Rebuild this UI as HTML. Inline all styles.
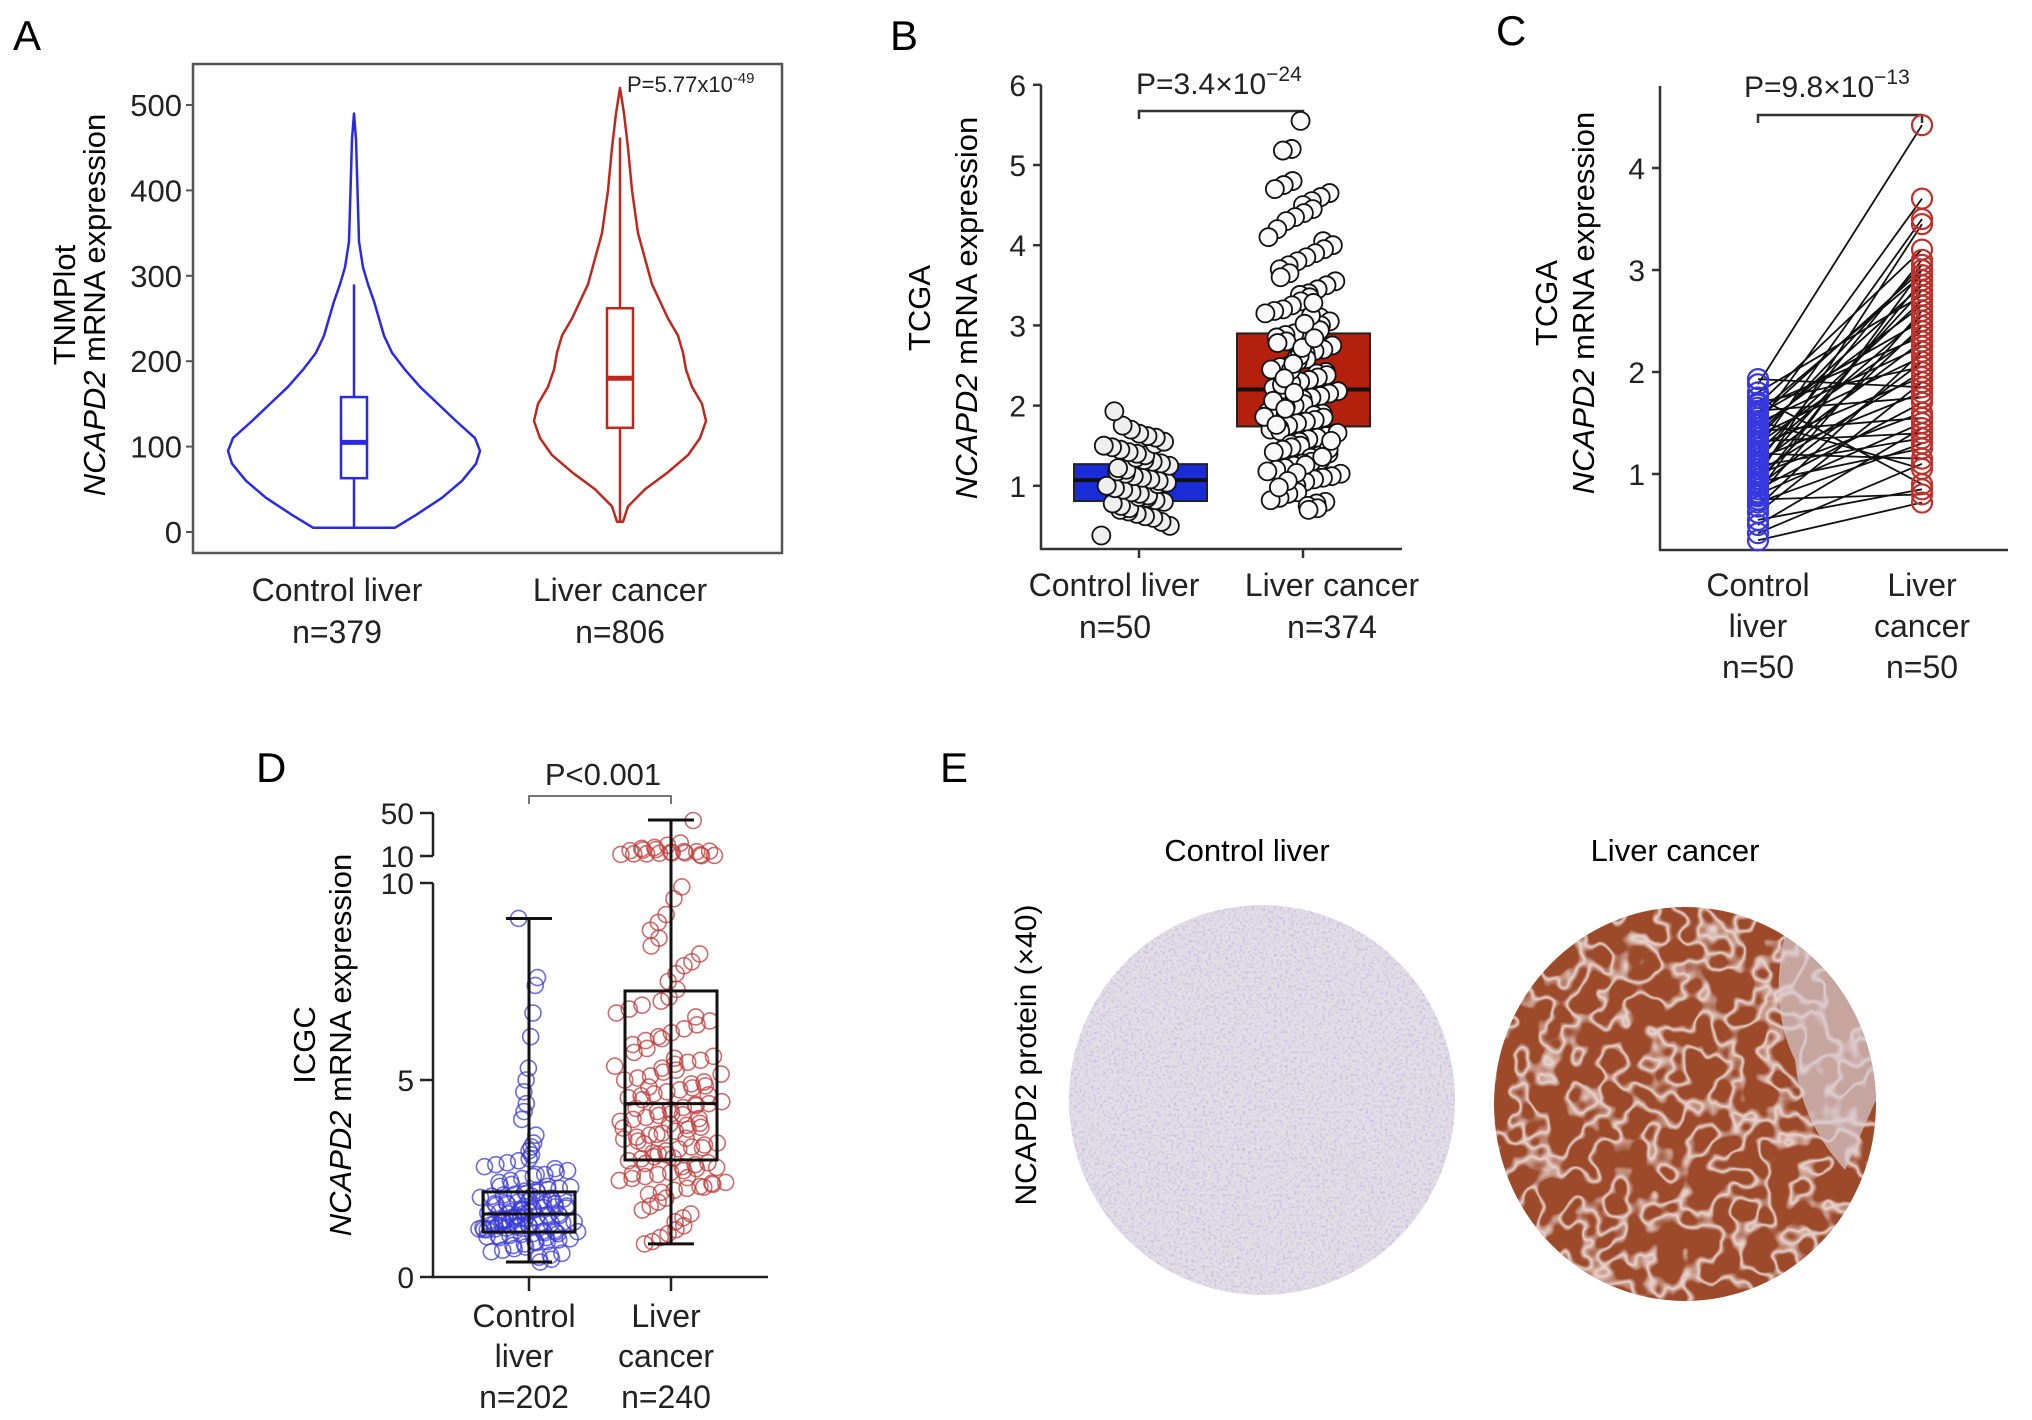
<!DOCTYPE html>
<html><head><meta charset="utf-8"><title>NCAPD2 expression figure</title>
<style>
html,body{margin:0;padding:0;background:#fff;}
svg{display:block;font-family:"Liberation Sans",Arial,sans-serif;}
</style></head>
<body>
<svg id="fig" width="2032" height="1420" viewBox="0 0 2032 1420" xmlns="http://www.w3.org/2000/svg">
<defs>
  <filter id="noiseA" x="0" y="0" width="100%" height="100%">
    <feTurbulence type="fractalNoise" baseFrequency="0.35" numOctaves="2" seed="3" result="n"/>
    <feColorMatrix in="n" type="matrix" values="0 0 0 0 0.4  0 0 0 0 0.4  0 0 0 0 0.75  0 0 0 -2.4 1.25" result="c"/>
    <feComposite in="c" in2="SourceGraphic" operator="in"/>
  </filter>
  <filter id="noiseB" x="0" y="0" width="100%" height="100%">
    <feTurbulence type="fractalNoise" baseFrequency="0.035" numOctaves="2" seed="7" result="n"/>
    <feComponentTransfer in="n" result="band">
      <feFuncA type="table" tableValues="0 0 0 0 0 0 1 0 0 0 0 0"/>
    </feComponentTransfer>
    <feColorMatrix in="band" type="matrix" values="0 0 0 0 0.92  0 0 0 0 0.84  0 0 0 0 0.84  0 0 0 1 0" result="c"/>
    <feComposite in="c" in2="SourceGraphic" operator="in"/>
  </filter>
  <clipPath id="clipCtrl"><ellipse cx="1262" cy="1100" rx="193" ry="195"/></clipPath>
  <clipPath id="clipCanc"><ellipse cx="1685" cy="1104" rx="191" ry="197"/></clipPath>
</defs>
<g id="gA"></g>
<g id="gB"></g>
<g id="gC"></g>
<g id="gD"></g>
<g id="gE">
  <text x="940" y="782" font-size="42">E</text>
  <text x="1247" y="861" font-size="31" text-anchor="middle">Control liver</text>
  <text x="1675" y="861" font-size="31" text-anchor="middle">Liver cancer</text>
  <text transform="translate(1036,1055) rotate(-90)" font-size="30" text-anchor="middle">NCAPD2 protein (×40)</text>
  <g>
    <ellipse cx="1262" cy="1100" rx="193" ry="195" fill="#e4dde6"/>
    <rect x="1060" y="900" width="410" height="400" fill="#fff" filter="url(#noiseA)" clip-path="url(#clipCtrl)" opacity="0.7"/>
  </g>
  <g>
    <ellipse cx="1685" cy="1104" rx="191" ry="197" fill="#9c4a2a"/>
    <rect x="1490" y="900" width="400" height="410" fill="#fff" filter="url(#noiseB)" clip-path="url(#clipCanc)" opacity="0.85"/>
    <path d="M1790 915 Q1765 1000 1795 1060 Q1800 1120 1845 1170 L1876 1100 L1870 990 Z" fill="#d9ccd2" opacity="0.7" clip-path="url(#clipCanc)"/>
  </g>
</g>
</svg>
<script>
// ===== Panel A data (TNMPlot violin) =====
const aCats = ["Control liver","Liver cancer"];
const aNs = ["n=379","n=806"];
const aTicks = [0,100,200,300,400,500];
const aCtrlVals = [5,20,40,60,80,95,110,130,150,170,190,210,230,250,270,290,310,340,380,420,460,490];
const aCtrlDens = [41,62,88,108,122,126,121,102,84,66,51,38,30,25,20,14,9,5,4,3,2,0];
const aCancVals = [12,30,50,70,90,110,130,150,170,190,210,230,250,270,290,320,350,400,450,490,520];
const aCancDens = [3,8,25,48,68,80,86,82,72,66,63,58,48,40,32,25,18,12,8,4,0];
const aCtrlBox = [5,63,105,158,290];
const aCancBox = [12,122,180,262,462];

// ===== Panel B data (TCGA unpaired) =====
const bCats = ["Control liver","Liver cancer"];
const bNs = ["n=50","n=374"];
const bTicks = [1,2,3,4,5,6];
const bCtrlBox = [0.81,1.07,1.27];
const bCancBox = [1.74,2.2,2.9];
const bCtrlPts = [0.38,0.5,0.55,0.6,0.62,0.65,0.68,0.7,0.72,0.75,0.78,0.8,0.82,0.85,0.86,0.88,0.9,0.92,0.95,0.97,1.0,1.02,1.04,1.06,1.08,1.1,1.12,1.15,1.18,1.2,1.22,1.25,1.28,1.3,1.32,1.35,1.38,1.4,1.42,1.45,1.48,1.5,1.52,1.55,1.6,1.62,1.65,1.7,1.75,1.93];
const bCancPts = [5.55,5.2,5.18,4.8,4.75,4.7,4.65,4.6,4.55,4.5,4.45,4.4,4.35,4.3,4.2,4.1,4.05,4.0,3.95,3.9,3.85,3.8,3.75,3.7,3.65,3.6,3.55,3.5,3.45,3.4,3.38,3.35,3.3,3.25,3.2,3.18,3.15,3.1,3.05,3.0,2.98,2.95,2.9,2.88,2.85,2.8,2.78,2.75,2.7,2.68,2.65,2.6,2.58,2.55,2.5,2.48,2.45,2.42,2.4,2.38,2.35,2.32,2.3,2.28,2.25,2.22,2.2,2.18,2.15,2.12,2.1,2.08,2.05,2.02,2.0,1.98,1.95,1.92,1.9,1.88,1.85,1.82,1.8,1.78,1.75,1.72,1.7,1.68,1.65,1.62,1.6,1.58,1.55,1.52,1.5,1.48,1.45,1.42,1.4,1.38,1.35,1.32,1.3,1.28,1.25,1.22,1.2,1.18,1.15,1.12,1.1,1.08,1.05,1.0,0.95,0.92,0.9,0.85,0.82,0.8,0.78,0.75,0.72,0.7,2.62,2.44,2.26,2.06,1.86,1.66,1.46,2.94,3.12,2.72,2.52,2.34,2.16,1.96,1.76,1.56,1.36,3.28,3.02,2.84,1.26,1.16,1.06,0.98];

// ===== Panel C data (TCGA paired) =====
const cCats = ["Control|liver","Liver|cancer"];
const cNs = ["n=50","n=50"];
const cTicks = [1,2,3,4];
const cCtrl = [0.35,0.42,0.5,0.55,0.62,0.68,0.72,0.75,0.78,0.8,0.82,0.85,0.88,0.9,0.92,0.95,0.98,1.0,1.02,1.05,1.08,1.1,1.12,1.15,1.18,1.2,1.22,1.25,1.28,1.3,1.32,1.35,1.38,1.4,1.42,1.45,1.48,1.5,1.52,1.55,1.58,1.6,1.62,1.65,1.68,1.7,1.75,1.8,1.88,1.93];
const cCanc = [0.72,1.1,1.45,0.85,1.9,2.2,1.3,0.8,2.6,1.5,3.0,1.7,2.1,2.9,1.25,2.45,3.45,1.6,2.0,2.8,1.35,2.3,3.1,1.8,2.55,1.15,2.7,3.5,1.95,2.4,1.4,3.05,2.15,2.85,1.55,2.65,3.7,2.25,1.05,3.0,2.5,2.95,1.75,2.35,3.2,2.05,0.9,2.75,4.42,1.85];

// ===== Panel D data (ICGC) =====
const dCats = ["Control|liver","Liver|cancer"];
const dNs = ["n=202","n=240"];
const dTicksLow = [0,5,10];
const dTicksHigh = [10,50];
const dCtrlBox = [0.38,1.14,1.6,2.16,9.1];
const dCancBox = [0.84,2.97,4.4,7.26,43.5];
const dCtrlPts = [9.1,7.6,7.4,6.7,6.1,5.3,5.0,4.7,4.4,4.2,4.0,3.6,3.4,3.3,3.2,3.1,3.0,2.95,2.9,2.85,2.8,2.75,2.7,2.65,2.6,2.55,2.5,2.45,2.4,2.35,2.3,2.28,2.25,2.22,2.2,2.18,2.15,2.12,2.1,2.08,2.05,2.02,2.0,1.98,1.96,1.94,1.92,1.9,1.88,1.86,1.84,1.82,1.8,1.78,1.76,1.74,1.72,1.7,1.68,1.66,1.64,1.62,1.6,1.58,1.56,1.54,1.52,1.5,1.48,1.46,1.44,1.42,1.4,1.38,1.36,1.34,1.32,1.3,1.28,1.26,1.24,1.22,1.2,1.18,1.16,1.14,1.12,1.1,1.08,1.06,1.04,1.02,1.0,0.97,0.94,0.9,0.87,0.84,0.8,0.76,0.72,0.68,0.64,0.6,0.55,0.5,0.45,0.38,1.65,1.55,1.45,1.35,1.25,1.15,1.75,1.85,1.95,2.05,1.5,1.6,1.7,1.4,1.3,1.2,1.1,1.0,0.9,2.3,2.6,1.62,1.52,1.42,1.32,1.22];
const dCancPts = [43,22,20,18,17,16,15.5,15,14.5,14,14,13.5,13,13,12.5,12,12,11.5,11,10.5,10.3,9.9,9.6,9.2,9.0,8.8,8.6,8.4,8.2,8.0,7.9,7.7,7.5,7.3,7.1,7.0,6.9,6.8,6.7,6.6,6.5,6.4,6.3,6.2,6.1,6.0,5.9,5.8,5.7,5.6,5.5,5.45,5.4,5.3,5.25,5.2,5.1,5.05,5.0,4.95,4.9,4.85,4.8,4.75,4.7,4.65,4.6,4.55,4.5,4.45,4.4,4.35,4.3,4.25,4.2,4.15,4.1,4.05,4.0,3.95,3.9,3.85,3.8,3.75,3.7,3.65,3.6,3.55,3.5,3.45,3.4,3.35,3.3,3.25,3.2,3.15,3.1,3.05,3.0,2.95,2.9,2.85,2.8,2.75,2.7,2.65,2.6,2.55,2.5,2.45,2.4,2.35,2.3,2.25,2.2,2.15,2.1,2.0,1.9,1.8,1.7,1.6,1.5,1.4,1.3,1.2,1.1,1.0,0.9,0.84,5.35,5.15,4.62,4.38,4.12,3.88,3.62,3.38,3.12,2.88,2.62,2.38,4.02,3.52,3.02,2.52,5.55,6.05,4.82,4.28,3.78,3.28,2.78,2.28];

const NS = "http://www.w3.org/2000/svg";
function el(parent, tag, attrs, text){
  const e = document.createElementNS(NS, tag);
  for (const k in attrs) e.setAttribute(k, attrs[k]);
  if (text !== undefined) e.textContent = text;
  parent.appendChild(e);
  return e;
}
function jit(i){ return (((i*37)%41)/40 - 0.5) + (((i*13)%7)/7 - 0.5)*0.3; }

// ================= PANEL A =================
(function(){
  const g = document.getElementById('gA');
  const yA = v => 532 - v*0.854;
  const xs = [354, 620];
  let t;
  t = el(g,'text',{x:13,y:50,'font-size':42}, 'A');
  
  
  const frame = el(g,'rect',{x:193,y:64,width:589,height:489,fill:'none',stroke:'#555','stroke-width':2.5});
  
  
  aTicks.forEach(v=>{
    const tk = el(g,'line',{x1:186,x2:193,y1:yA(v),y2:yA(v),stroke:'#555','stroke-width':2});
    
    
    const tl = el(g,'text',{x:182,y:yA(v)+11,'font-size':31,'text-anchor':'end',fill:'#222'}, String(v));
    
    
  });
  t = el(g,'text',{transform:'translate(75,305) rotate(-90)','font-size':31,'text-anchor':'middle'}, 'TNMPlot');
  
  
  t = el(g,'text',{transform:'translate(105,305) rotate(-90)','font-size':31,'text-anchor':'middle'});
  
  
  el(t,'tspan',{'font-style':'italic'},'NCAPD2'); el(t,'tspan',{},' mRNA expression');
  t = el(g,'text',{x:627,y:92,'font-size':22,fill:'#222'},'P=5.77x10');
  
  
  el(t,'tspan',{dy:-9,'font-size':15},'-49');
  function violin(vals, dens, cx, color, name){
    let pts = [];
    for (let i=0;i<vals.length;i++) pts.push([cx-dens[i], yA(vals[i])]);
    for (let i=vals.length-1;i>=0;i--) pts.push([cx+dens[i], yA(vals[i])]);
    const p = el(g,'path',{d:'M'+pts.map(p=>p[0].toFixed(1)+' '+p[1].toFixed(1)).join(' L')+' Z',fill:'none',stroke:color,'stroke-width':2.5,'stroke-linejoin':'round'});
    
    
  }
  function box(b, cx, color, name){
    const w = el(g,'line',{x1:cx,x2:cx,y1:yA(b[0]),y2:yA(b[4]),stroke:color,'stroke-width':2.5});
    
    
    const r = el(g,'rect',{x:cx-13,y:yA(b[3]),width:26,height:yA(b[1])-yA(b[3]),fill:'#fff',stroke:color,'stroke-width':2.5});
    
    
    const m = el(g,'line',{x1:cx-13,x2:cx+13,y1:yA(b[2]),y2:yA(b[2]),stroke:color,'stroke-width':5});
    
    
  }
  violin(aCtrlVals,aCtrlDens,xs[0],'#2a2ae6','violin-control');
  violin(aCancVals,aCancDens,xs[1],'#c0281e','violin-cancer');
  box(aCtrlBox,xs[0],'#2a2ae6','control');
  box(aCancBox,xs[1],'#c0281e','cancer');
  aCats.forEach((c,i)=>{
    const cx = [337,620][i];
    const a = el(g,'text',{x:cx,y:601,'font-size':32,'text-anchor':'middle',fill:'#222'},c);
    
    
    const b = el(g,'text',{x:cx,y:643,'font-size':32,'text-anchor':'middle',fill:'#222'},aNs[i]);
    
    
  });
})();

// ================= PANEL B =================
(function(){
  const g = document.getElementById('gB');
  const yB = v => 566 - v*80.2;
  const xs = [1139, 1303];
  let t;
  t = el(g,'text',{x:890,y:50,'font-size':42},'B');
  
  
  const ax = el(g,'path',{d:`M1041 ${yB(6)} L1041 549 L1402 549`,fill:'none',stroke:'#333','stroke-width':2.5});
  
  
  bTicks.forEach(v=>{
    const tk = el(g,'line',{x1:1033,x2:1041,y1:yB(v),y2:yB(v),stroke:'#333','stroke-width':2.5});
    
    
    const tl = el(g,'text',{x:1026,y:yB(v)+11,'font-size':30,'text-anchor':'end',fill:'#222'},String(v));
    
    
  });
  xs.forEach(x=>{
    const tk = el(g,'line',{x1:x,x2:x,y1:549,y2:558,stroke:'#333','stroke-width':2.5});
    
    
  });
  t = el(g,'text',{transform:'translate(930,308) rotate(-90)','font-size':31,'text-anchor':'middle'},'TCGA');
  
  
  t = el(g,'text',{transform:'translate(977,308) rotate(-90)','font-size':31,'text-anchor':'middle'});
  
  
  el(t,'tspan',{'font-style':'italic'},'NCAPD2'); el(t,'tspan',{},' mRNA expression');
  const br = el(g,'path',{d:`M${xs[0]} 119 L${xs[0]} 111 L${xs[1]} 111 L${xs[1]} 119`,fill:'none',stroke:'#333','stroke-width':2.5});
  
  
  t = el(g,'text',{x:1136,y:94,'font-size':30,fill:'#222'},'P=3.4×10');
  
  
  el(t,'tspan',{dy:-13,'font-size':21},'−24');
  function box(b,cx,color,name){
    const r = el(g,'rect',{x:cx-66,y:yB(b[2]),width:133,height:yB(b[0])-yB(b[2]),fill:color,stroke:'#222','stroke-width':2});
    
    
    const m = el(g,'line',{x1:cx-66,x2:cx+67,y1:yB(b[1]),y2:yB(b[1]),stroke:'#111','stroke-width':4});
    
    
  }
  box(bCtrlBox,xs[0]+1,'#1a2bd8','control');
  box(bCancBox,xs[1],'#b3200c','cancer');
  bCtrlPts.forEach((v,i)=>{
    const c = el(g,'circle',{cx:xs[0]+jit(i)*58,cy:yB(v),r:9,fill:'#efefef',stroke:'#111','stroke-width':1.8});
    
    
  });
  bCancPts.forEach((v,i)=>{
    const c = el(g,'circle',{cx:xs[1]+jit(i+5)*62,cy:yB(v),r:9,fill:'#fafafa',stroke:'#111','stroke-width':1.8});
    
    
  });
  bCats.forEach((c,i)=>{
    const cx=[1114,1332][i];
    const a = el(g,'text',{x:cx,y:596,'font-size':32,'text-anchor':'middle',fill:'#222'},c);
    
    
    const b = el(g,'text',{x:[1115,1332][i],y:638,'font-size':32,'text-anchor':'middle',fill:'#222'},bNs[i]);
    
    
  });
})();

// ================= PANEL C =================
(function(){
  const g = document.getElementById('gC');
  const yC = v => 576 - v*102;
  const xs = [1758, 1922];
  let t;
  t = el(g,'text',{x:1496,y:45,'font-size':42},'C');
  
  
  const ax = el(g,'path',{d:'M1660 86 L1660 550 L2008 550',fill:'none',stroke:'#333','stroke-width':2.5});
  
  
  cTicks.forEach(v=>{
    const tk = el(g,'line',{x1:1652,x2:1660,y1:yC(v),y2:yC(v),stroke:'#333','stroke-width':2.5});
    
    
    const tl = el(g,'text',{x:1645,y:yC(v)+11,'font-size':30,'text-anchor':'end',fill:'#222'},String(v));
    
    
  });
  t = el(g,'text',{transform:'translate(1557,303) rotate(-90)','font-size':31,'text-anchor':'middle'},'TCGA');
  
  
  t = el(g,'text',{transform:'translate(1594,303) rotate(-90)','font-size':31,'text-anchor':'middle'});
  
  
  el(t,'tspan',{'font-style':'italic'},'NCAPD2'); el(t,'tspan',{},' mRNA expression');
  const br = el(g,'path',{d:`M${xs[0]} 123 L${xs[0]} 115 L${xs[1]} 115 L${xs[1]} 123`,fill:'none',stroke:'#333','stroke-width':2.5});
  
  
  t = el(g,'text',{x:1744,y:97,'font-size':30,fill:'#222'},'P=9.8×10');
  
  
  el(t,'tspan',{dy:-13,'font-size':21},'−13');
  cCtrl.forEach((v,i)=>{
    const l = el(g,'line',{x1:xs[0],y1:yC(v),x2:xs[1],y2:yC(cCanc[i]),stroke:'#111','stroke-width':1.8});
    
    
  });
  cCtrl.forEach(v=>{
    const c = el(g,'circle',{cx:xs[0],cy:yC(v),r:10,fill:'none',stroke:'#3838e0','stroke-width':2.2});
    
    
  });
  cCanc.forEach(v=>{
    const c = el(g,'circle',{cx:xs[1],cy:yC(v),r:10,fill:'none',stroke:'#c0302a','stroke-width':2.2});
    
    
  });
  cCats.forEach((c,i)=>{
    const parts = c.split('|');
    const a = el(g,'text',{x:xs[i],y:596,'font-size':32,'text-anchor':'middle',fill:'#222'},parts[0]);
    
    
    const a2 = el(g,'text',{x:xs[i],y:637,'font-size':32,'text-anchor':'middle',fill:'#222'},parts[1]);
    
    
    const b = el(g,'text',{x:xs[i],y:678,'font-size':32,'text-anchor':'middle',fill:'#222'},cNs[i]);
    
    
  });
})();

// ================= PANEL D =================
(function(){
  const g = document.getElementById('gD');
  const yLow = v => 1277 - v*39.4;
  const yHigh = v => 856 - (v-10)*1.075;
  const yD = v => v <= 10 ? yLow(v) : yHigh(v);
  const xs = [529, 671];
  let t;
  t = el(g,'text',{x:256,y:782,'font-size':42},'D');
  
  
  const ax = el(g,'path',{d:`M433 ${yLow(10)} L433 1277 L768 1277`,fill:'none',stroke:'#222','stroke-width':2.5});
  
  
  const ax2 = el(g,'line',{x1:433,x2:433,y1:yHigh(50),y2:yHigh(10),stroke:'#222','stroke-width':2.5});
  
  
  dTicksLow.forEach(v=>{
    const tk = el(g,'line',{x1:420,x2:433,y1:yLow(v),y2:yLow(v),stroke:'#222','stroke-width':2.5});
    
    
    const tl = el(g,'text',{x:414,y:yLow(v)+11,'font-size':30,'text-anchor':'end',fill:'#222'},String(v));
    
    
  });
  dTicksHigh.forEach(v=>{
    const tk = el(g,'line',{x1:420,x2:433,y1:yHigh(v),y2:yHigh(v),stroke:'#222','stroke-width':2.5});
    
    
    const tl = el(g,'text',{x:414,y:yHigh(v)+11,'font-size':30,'text-anchor':'end',fill:'#222'},String(v));
    
    
  });
  xs.forEach(x=>{
    const tk = el(g,'line',{x1:x,x2:x,y1:1277,y2:1291,stroke:'#222','stroke-width':2.5});
    
    
  });
  t = el(g,'text',{transform:'translate(315,1045) rotate(-90)','font-size':31,'text-anchor':'middle'},'ICGC');
  
  
  t = el(g,'text',{transform:'translate(351,1045) rotate(-90)','font-size':31,'text-anchor':'middle'});
  
  
  el(t,'tspan',{'font-style':'italic'},'NCAPD2'); el(t,'tspan',{},' mRNA expression');
  const br = el(g,'path',{d:`M${xs[0]} 804 L${xs[0]} 796 L${xs[1]} 796 L${xs[1]} 804`,fill:'none',stroke:'#777','stroke-width':2});
  
  
  t = el(g,'text',{x:603,y:785,'font-size':31,'text-anchor':'middle',fill:'#222'},'P<0.001');
  
  
  dCtrlPts.forEach((v,i)=>{
    const c = el(g,'circle',{cx:xs[0]+jit(i)*(v<3?80:16),cy:yD(v),r:8,fill:'none',stroke:'#3a3ad8','stroke-opacity':0.75,'stroke-width':1.6});
    
    
  });
  dCancPts.forEach((v,i)=>{
    const sp = v>10 ? 90 : (v>2 && v<7 ? 90 : 55);
    const c = el(g,'circle',{cx:xs[1]+jit(i+3)*sp,cy:yD(v),r:8,fill:'none',stroke:'#c03a3a','stroke-opacity':0.75,'stroke-width':1.6});
    
    
  });
  function box(b,cx,name){
    const hw = 46;
    const w = el(g,'line',{x1:cx,x2:cx,y1:yD(b[0]),y2:yD(b[4]),stroke:'#111','stroke-width':3});
    
    
    [b[0],b[4]].forEach(v=>{
      const cap = el(g,'line',{x1:cx-23,x2:cx+23,y1:yD(v),y2:yD(v),stroke:'#111','stroke-width':3});
      
      
    });
    const r = el(g,'rect',{x:cx-hw,y:yD(b[3]),width:hw*2,height:yD(b[1])-yD(b[3]),fill:'none',stroke:'#111','stroke-width':3});
    
    
    const m = el(g,'line',{x1:cx-hw,x2:cx+hw,y1:yD(b[2]),y2:yD(b[2]),stroke:'#111','stroke-width':3});
    
    
  }
  box(dCtrlBox,xs[0],'control');
  box(dCancBox,xs[1],'cancer');
  dCats.forEach((c,i)=>{
    const parts = c.split('|');
    const a = el(g,'text',{x:xs[i]-5,y:1327,'font-size':32,'text-anchor':'middle',fill:'#222'},parts[0]);
    
    
    const a2 = el(g,'text',{x:xs[i]-5,y:1367,'font-size':32,'text-anchor':'middle',fill:'#222'},parts[1]);
    
    
    const b = el(g,'text',{x:xs[i]-5,y:1408,'font-size':32,'text-anchor':'middle',fill:'#222'},dNs[i]);
    
    
  });
})();
</script>
</body></html>
